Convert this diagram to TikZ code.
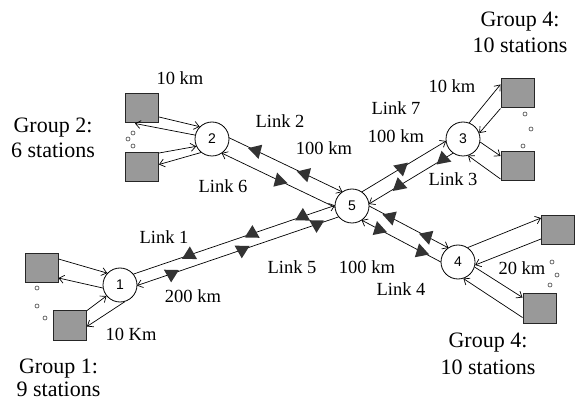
\documentclass[tikz,border=0pt]{standalone}
\usepackage{fontspec}
\setmainfont{Liberation Serif}
\newfontfamily\numfont{Liberation Sans}
\usetikzlibrary{calc,arrows.meta}
\tikzset{
 hub/.style={circle, draw, line width=0.8pt, minimum size=34pt, inner sep=0pt, fill=white, font=\numfont\fontsize{14}{16}\selectfont},
 station/.style={rectangle, draw=black!85, line width=1pt, fill=black!40, minimum width=33pt, minimum height=29pt, inner sep=0pt},
 dotc/.style={circle, draw=black!75, line width=0.6pt, fill=white, minimum size=4pt, inner sep=0pt},
 lbl/.style={font=\fontsize{18.5}{21}\selectfont, inner sep=0pt, anchor=base},
 grp/.style={font=\fontsize{22}{25}\selectfont, inner sep=0pt, anchor=base},
 arr/.style={line width=0.7pt, -{Straight Barb[length=5pt,width=8pt]}},
 tri/.pic={\fill[black!80, arrows=-, rotate=-20] (-7.5pt,-4pt) -- (7.5pt,-4pt) -- (0pt,8.5pt) -- cycle;},
 trin/.pic={\fill[black!80, arrows=-, rotate=-20] (-7.5pt,4pt) -- (7.5pt,4pt) -- (0pt,-8.5pt) -- cycle;},
 tpos/.style={pos=#1, sloped, allow upside down},
}
\newcommand\hubline[5]{\draw[arr] ($(#1)!#4pt!(#2)!#3pt!90:(#2)$) -- ($(#2)!#4pt!(#1)!#3pt!-90:(#1)$) #5;}
\begin{document}
\begin{tikzpicture}[x=1pt,y=-1pt]
\useasboundingbox (0,0) rectangle (576,406);
% hubs
\node[hub] (n1) at (120,285) {1};
\node[hub] (n2) at (212,139) {2};
\node[hub] (n3) at (463,139) {3};
\node[hub] (n4) at (458,262) {4};
\node[hub] (n5) at (352,206) {5};
% stations
\node[station] (s2a) at (142,108.5) {};
\node[station] (s2b) at (142,167) {};
\node[station] (s3a) at (517.5,93.5) {};
\node[station] (s3b) at (517.5,166) {};
\node[station] (s1a) at (41.5,268) {};
\node[station] (s1b) at (70,325.5) {};
\node[station] (s4a) at (558,230) {};
\node[station] (s4b) at (539.5,308.5) {};
% dots
\node[dotc] (d2a) at (133,133) {};
\node[dotc] (d2b) at (128,139) {};
\node[dotc] (d2c) at (133,146) {};
\node[dotc] (d3a) at (525,114) {};
\node[dotc] (d3b) at (531,129) {};
\node[dotc] (d3c) at (523,146) {};
\node[dotc] (d1a) at (37,288) {};
\node[dotc] (d1b) at (37,306) {};
\node[dotc] (d1c) at (45,318) {};
\node[dotc] (d4a) at (552,262) {};
\node[dotc] (d4b) at (557,275) {};
\node[dotc] (d4c) at (550,285) {};
% station links group 2
\draw[arr] ($(s2a.east)+(0,8.5)$) -- (n2.135);
\draw[arr] (n2.167) -- ($(s2a.south)+(-7,0)$);
\draw[arr] ($(s2b.north east)+(0,1)$) -- (n2.205);
\draw[arr] (n2.231) -- ($(s2b.north east)+(0,12.5)$);
% group 3
\draw[arr] (n3.69) -- ($(s3a.north west)+(0,6)$);
\draw[arr] (s3a.south west) -- (n3.20);
\draw[arr] (n3.-10) -- ($(s3b.north west)+(0,5)$);
\draw[arr] ($(s3b.south west)+(0,-2)$) -- (n3.-73);
% group 1
\draw[arr] ($(s1a.north east)+(0,6)$) -- (n1.137);
\draw[arr] (n1.190) -- ($(s1a.south east)+(0,-5)$);
\draw[arr] (s1b.north east) -- (n1.219);
\draw[arr] (n1.-74) -- ($(s1b.north east)+(0,16)$);
% group 4
\draw[arr] (n4.56) -- ($(s4a.north west)+(0,3)$);
\draw[arr] ($(s4a.south west)+(0,-6)$) -- (n4.-10);
\draw[arr] (n4.-17) -- ($(s4b.north west)+(0,4)$);
\draw[arr] ($(s4b.south west)+(0,-6)$) -- (n4.-72);
% hub links
\hubline{n1}{n5}{6}{15.9}{pic[tpos=0.28]{tri} pic[tpos=0.59]{tri} pic[tpos=0.84]{tri}}
\hubline{n5}{n1}{6}{15.9}{pic[tpos=0.11]{tri} pic[tpos=0.48]{tri} pic[tpos=0.83]{tri}}
\hubline{n2}{n5}{8.5}{14.7}{pic[tpos=0.24]{tri} pic[tpos=0.67]{tri}}
\hubline{n5}{n2}{8.5}{14.7}{pic[tpos=0.49]{tri}}
\hubline{n5}{n3}{7}{15.5}{pic[tpos=0.47]{trin}}
\hubline{n3}{n5}{7}{15.5}{pic[tpos=0.12]{trin} pic[tpos=0.64]{trin}}
\hubline{n5}{n4}{8}{15}{pic[tpos=0.27]{tri} pic[tpos=0.73]{tri}}
\hubline{n4}{n5}{8}{15}{pic[tpos=0.25]{tri} pic[tpos=0.78]{tri}}
% labels
\node[lbl] (l10a) at (180,85) {10 km};
\node[lbl] (l6) at (223,193) {Link 6};
\node[lbl] (l2) at (280,128) {Link 2};
\node[lbl] (k2) at (324,155) {100 km};
\node[lbl] (l7) at (396,115) {Link 7};
\node[lbl] (k7) at (396,143) {100 km};
\node[lbl] (l10b) at (452,93) {10 km};
\node[lbl] (l3) at (453,186) {Link 3};
\node[lbl] (l1) at (164,244) {Link 1};
\node[lbl] (k1) at (193,303) {200 km};
\node[lbl] (l10c) at (131,341) {10 Km};
\node[lbl] (l5) at (292,273) {Link 5};
\node[lbl] (k4) at (367,273) {100 km};
\node[lbl] (l4) at (401,295) {Link 4};
\node[lbl] (l20) at (522,275) {20 km};
% group labels
\node[grp] (g2a) at (53,133) {Group 2:};
\node[grp] (g2b) at (53,158) {6 stations};
\node[grp] (g3a) at (520,27) {Group 4:};
\node[grp] (g3b) at (520,53) {10 stations};
\node[grp] (g1a) at (58.5,373) {Group 1:};
\node[grp] (g1b) at (58.5,396) {9 stations};
\node[grp] (g4a) at (488,347) {Group 4:};
\node[grp] (g4b) at (488,374) {10 stations};
\end{tikzpicture}
\end{document}
